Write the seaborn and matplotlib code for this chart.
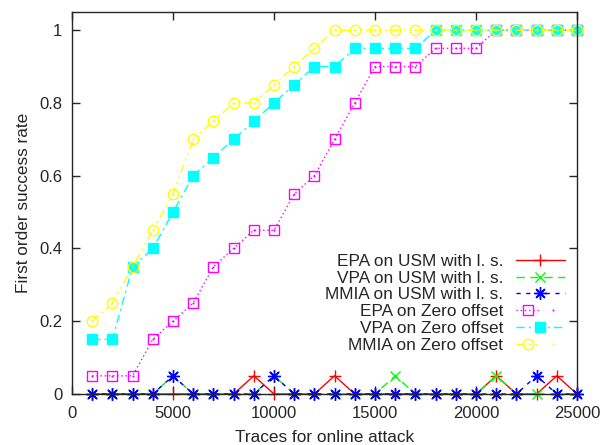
import numpy as np
import pandas as pd
import matplotlib
matplotlib.use("Agg")
import matplotlib.pyplot as plt
import seaborn as sns
from matplotlib.ticker import FuncFormatter
from matplotlib.legend_handler import HandlerTuple

sns.set_style("ticks")
plt.rcParams['font.family'] = ['Liberation Sans', 'DejaVu Sans']
plt.rcParams['font.size'] = 12

traces = [1000, 2000, 3000, 4000, 5000, 6000, 7000, 8000, 9000, 10000,
          11000, 12000, 13000, 14000, 15000, 16000, 17000, 18000, 19000, 20000,
          21000, 22000, 23000, 24000, 25000]

epa_usm = [0, 0, 0, 0, 0, 0, 0, 0, 0.05, 0,
           0, 0, 0.05, 0, 0, 0, 0, 0, 0, 0,
           0.05, 0, 0, 0.05, 0]
vpa_usm = [0, 0, 0, 0, 0.05, 0, 0, 0, 0, 0.05,
           0, 0, 0, 0, 0, 0.05, 0, 0, 0, 0,
           0.05, 0, 0, 0, 0]
mmia_usm = [0, 0, 0, 0, 0.05, 0, 0, 0, 0, 0.05,
            0, 0, 0, 0, 0, 0, 0, 0, 0, 0,
            0, 0, 0.05, 0, 0]
epa_zero = [0.05, 0.05, 0.05, 0.15, 0.2, 0.25, 0.35, 0.4, 0.45, 0.45,
            0.55, 0.6, 0.7, 0.8, 0.9, 0.9, 0.9, 0.95, 0.95, 0.95,
            1, 1, 1, 1, 1]
vpa_zero = [0.15, 0.15, 0.35, 0.4, 0.5, 0.6, 0.65, 0.7, 0.75, 0.8,
            0.85, 0.9, 0.9, 0.95, 0.95, 0.95, 0.95, 1, 1, 1,
            1, 1, 1, 1, 1]
mmia_zero = [0.2, 0.25, 0.35, 0.45, 0.55, 0.7, 0.75, 0.8, 0.8, 0.85,
             0.9, 0.95, 1, 1, 1, 1, 1, 1, 1, 1,
             1, 1, 1, 1, 1]

labels = ["EPA on USM with l. s.", "VPA on USM with l. s.", "MMIA on USM with l. s.",
          "EPA on Zero offset", "VPA on Zero offset", "MMIA on Zero offset"]
series = [epa_usm, vpa_usm, mmia_usm, epa_zero, vpa_zero, mmia_zero]

styles = [
    dict(color="#ff0000", linestyle="-", marker="+", mfc="#ff0000", mec="#ff0000", ms=8, mew=1.0),
    dict(color="#00ff00", linestyle=(0, (6, 4)), marker="x", mfc="#00ff00", mec="#00ff00", ms=7, mew=1.0),
    dict(color="#0000ff", linestyle=(0, (3, 4)), marker=(8, 2, 0), mfc="#0000ff", mec="#0000ff", ms=9, mew=1.0),
    dict(color="#ff00ff", linestyle=(0, (1, 2)), marker="s", mfc="none", mec="#ff00ff", ms=7, mew=1.0),
    dict(color="#00ffff", linestyle=(0, (6, 3, 1.5, 3)), marker="s", mfc="#00ffff", mec="#00ffff", ms=7, mew=1.0),
    dict(color="#ffff00", linestyle=(0, (6, 3, 1.5, 3, 1.5, 3)), marker="o", mfc="none", mec="#ffff00", ms=7.5, mew=1.0),
]
dot_series = {3: "#ff00ff", 5: "#ffff00"}

fig = plt.figure(figsize=(6.01, 4.45), dpi=100)
ax = fig.add_axes([72 / 601, (445 - 394) / 445, 505 / 601, 382 / 445])

handles = []
for i, (lab, vals, st) in enumerate(zip(labels, series, styles)):
    df = pd.DataFrame({"x": traces, "y": vals})
    sns.lineplot(data=df, x="x", y="y", ax=ax, lw=1.0, label=lab, legend=False,
                 clip_on=False, **st)
    line = ax.lines[-1]
    h = line
    if i in dot_series:
        sns.lineplot(data=df, x="x", y="y", ax=ax, lw=0, marker=".", ms=1.5,
                     mfc=dot_series[i], mec=dot_series[i], legend=False, clip_on=False)
        h = (line, ax.lines[-1])
    handles.append(h)

leg = ax.legend(handles, labels, loc="lower right", bbox_to_anchor=(0.976, 0.108),
                frameon=False, markerfirst=False, handlelength=2.85, handletextpad=0.75,
                labelspacing=0.1, borderpad=0, borderaxespad=0, fontsize=12.4,
                handler_map={tuple: HandlerTuple(ndivide=None)})
for t in leg.get_texts():
    t.set_ha("right")
leg._legend_box.align = "right"

ax.set_xlim(0, 25000)
ax.set_ylim(0, 1.05)
ax.set_xticks([0, 5000, 10000, 15000, 20000, 25000])
ax.set_yticks([0, 0.2, 0.4, 0.6, 0.8, 1.0])
ax.yaxis.set_major_formatter(FuncFormatter(lambda v, p: f"{v:g}"))
ax.tick_params(direction="in", length=6, width=1, top=True, right=True, labelsize=12)
ax.tick_params(axis="x", pad=9)
ax.tick_params(axis="y", pad=7)
for s in ax.spines.values():
    s.set_linewidth(1.0)
    s.set_visible(True)
ax.set_xlabel("Traces for online attack", fontsize=12.4, labelpad=6)
ax.set_ylabel("First order success rate", fontsize=12.4, labelpad=6)

fig.savefig("out.png", dpi=100)
